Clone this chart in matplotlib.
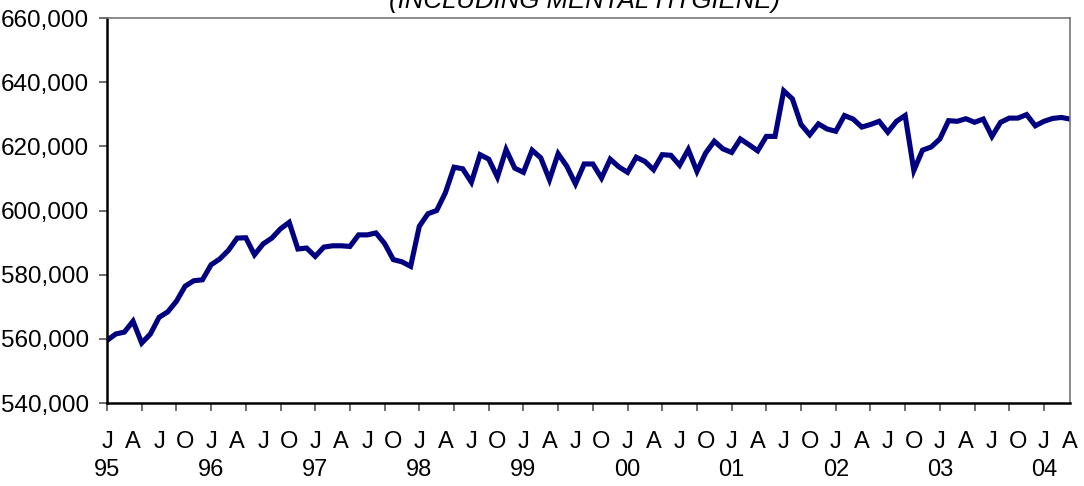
import numpy as np
import matplotlib
matplotlib.use("Agg")
import matplotlib.pyplot as plt
from matplotlib.ticker import FuncFormatter

plt.rcParams['font.family'] = ['Liberation Sans', 'DejaVu Sans']

# monthly values, Jan 1995 - Apr 2004 (thousands)
values = [
    559.5, 561.5, 562.1, 565.5, 558.7, 561.5, 566.7, 568.4, 571.7, 576.4, 578.1, 578.4,
    583.1, 584.9, 587.6, 591.4, 591.5, 586.2, 589.6, 591.4, 594.3, 596.3, 588.0, 588.3,
    585.7, 588.6, 589.0, 589.0, 588.8, 592.4, 592.4, 593.0, 589.7, 584.7, 584.0, 582.6,
    595.1, 599.0, 600.0, 605.5, 613.5, 613.0, 608.8, 617.4, 616.0, 610.4, 619.0, 613.2,
    611.9, 618.8, 616.4, 609.6, 617.7, 613.8, 608.3, 614.5, 614.5, 610.1, 616.0, 613.6,
    611.9, 616.6, 615.3, 612.7, 617.4, 617.2, 614.1, 619.0, 612.2, 617.9, 621.6, 619.2,
    618.1, 622.3, 620.5, 618.6, 623.1, 623.1, 637.3, 634.8, 626.8, 623.6, 627.0, 625.4,
    624.7, 629.6, 628.5, 626.0, 626.8, 627.8, 624.4, 627.8, 629.6, 612.5, 618.8, 619.8,
    622.3, 628.0, 627.8, 628.6, 627.5, 628.5, 623.1, 627.5, 628.8, 628.8, 629.9, 626.4,
    627.8, 628.7, 629.0, 628.5,
]
employment = np.array(values) * 1000

month_letters = ['J', 'A', 'J', 'O']
years = ['95', '96', '97', '98', '99', '00', '01', '02', '03', '04']
title = '(INCLUDING MENTAL HYGIENE)'

x = np.arange(len(employment))

fig = plt.figure(figsize=(10.84, 4.86), dpi=100)
ax = fig.add_axes([107 / 1084, 1 - 403 / 486, 963 / 1084, 385 / 486])

ax.plot(x, employment, color='#000080', lw=3.7, solid_joinstyle='miter')

ax.set_xlim(0, len(employment) - 1)
ax.set_ylim(540000, 660000)
ax.set_yticks(np.arange(540000, 660001, 20000))
ax.yaxis.set_major_formatter(FuncFormatter(lambda v, p: '{:,.0f}'.format(v)))

# tick marks every 4 months, labels every quarter
ax.xaxis.remove_overlapping_locs = False
ax.set_xticks(np.arange(0, len(employment), 4))
ax.set_xticklabels([])
qpos = np.arange(0, len(employment), 3)
qlabels = []
for q in qpos:
    lab = month_letters[(q // 3) % 4]
    if q % 12 == 0:
        lab = lab + '\n' + years[q // 12]
    qlabels.append(lab)
ax.set_xticks(qpos, minor=True)
ax.set_xticklabels(qlabels, minor=True, fontsize=17, linespacing=1.38, va='top')
ax.tick_params(axis='x', which='minor', length=0, pad=20)
ax.tick_params(axis='x', which='major', direction='out', length=6, width=1.2, color='#555555')
ax.tick_params(axis='y', direction='out', length=6, width=1.2, color='#555555', labelsize=17.5, pad=7)

for s in ['left', 'bottom']:
    ax.spines[s].set_linewidth(1.8)
    ax.spines[s].set_color('black')
for s in ['top', 'right']:
    ax.spines[s].set_linewidth(1.2)
    ax.spines[s].set_color('#777777')

fig.text(585 / 1084, 1 - 8 / 486, title, ha='center', va='baseline', fontsize=18.5, style='italic')

fig.savefig('out.png', dpi=100)
